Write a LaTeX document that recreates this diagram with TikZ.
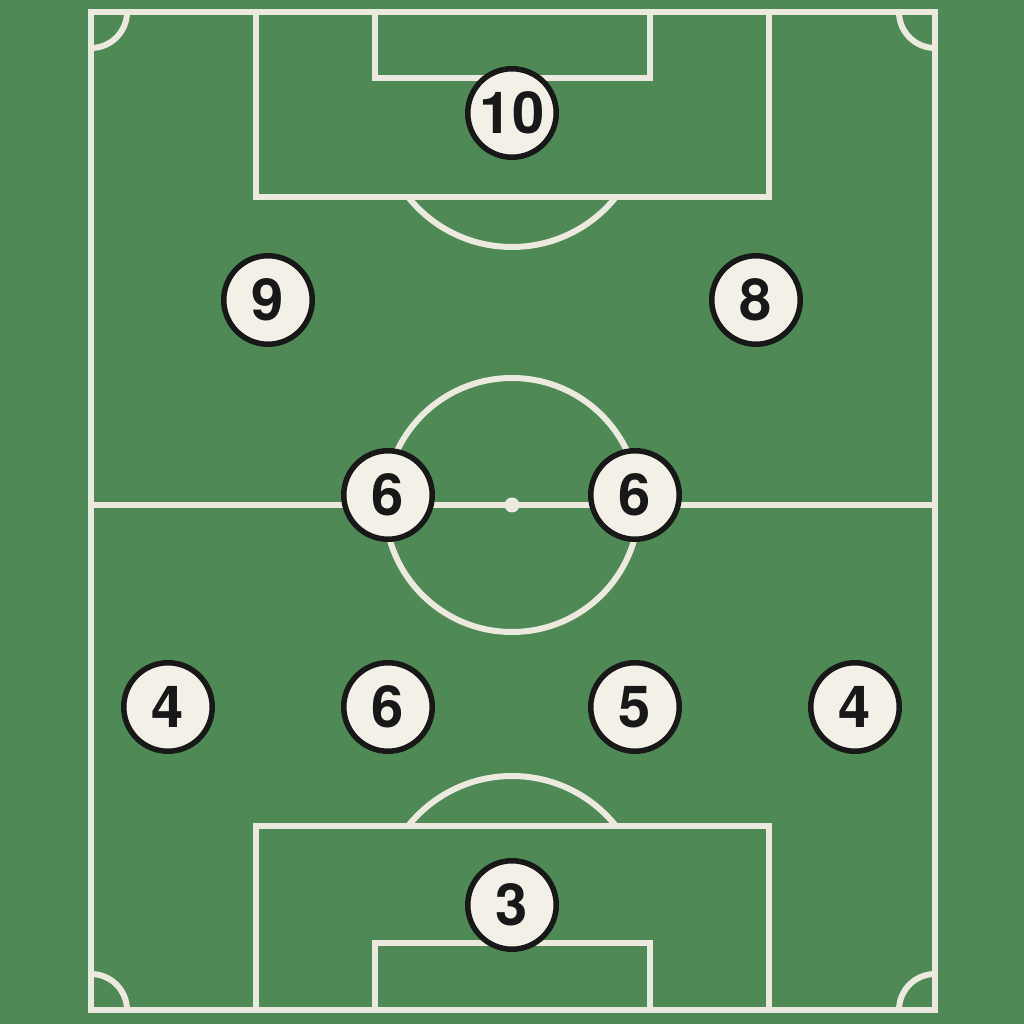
\documentclass[tikz,border=0pt]{standalone}
\usepackage{fontspec}
\setmainfont{TeX Gyre Heros}
\usepackage{xcolor}
\usetikzlibrary{positioning}

\definecolor{pitch}{RGB}{79,137,86}
\definecolor{chalk}{RGB}{236,233,222}
\definecolor{shirt}{RGB}{243,240,232}
\definecolor{ink}{RGB}{24,24,24}

\tikzset{
    line/.style={draw=chalk, line width=0.12cm},
    player/.style={circle, draw=ink, fill=shirt, line width=0.11cm,
        minimum size=1.77cm, inner sep=0pt,
        font=\fontsize{33}{33}\selectfont\bfseries, text=ink}
}

\begin{document}
\begin{tikzpicture}[x=0.02cm, y=0.02cm]
    % Grass
    \fill[pitch] (0,0) rectangle (1024,1024);
    \useasboundingbox (0,0) rectangle (1024,1024);

    % Touch lines and goal lines
    \draw[line] (91,14) rectangle (935,1012);

    % Halfway line, centre circle and spot
    \draw[line] (91,519) -- (935,519);
    \draw[line] (512,519) circle (127);
    \fill[chalk] (512,519) circle (7.5);

    % Top penalty area and goal area
    \draw[line] (256,1012) -- (256,827) -- (769,827) -- (769,1012);
    \draw[line] (375,1012) -- (375,946) -- (650,946) -- (650,1012);
    \begin{scope}
        \clip (0,0) rectangle (1024,827);
        \draw[line] (512,910) circle (133);
    \end{scope}

    % Bottom penalty area and goal area
    \draw[line] (256,14) -- (256,198) -- (769,198) -- (769,14);
    \draw[line] (375,14) -- (375,81) -- (650,81) -- (650,14);
    \begin{scope}
        \clip (0,198) rectangle (1024,1024);
        \draw[line] (512,115) circle (133);
    \end{scope}

    % Corner arcs
    \draw[line] (91,976) arc (270:360:36);
    \draw[line] (899,1012) arc (180:270:36);
    \draw[line] (127,14) arc (0:90:36);
    \draw[line] (935,50) arc (90:180:36);

    % Players
    \node[player] (ten) at (512,911) {10};
    \node[player] (nine) at (268,724) {9};
    \node[player] (eight) at (756,724) {8};
    \node[player] (six_l) at (388,529) {6};
    \node[player] (six_r) at (635,529) {6};
    \node[player] (four_l) at (168,317) {4};
    \node[player] (six_b) at (388,317) {6};
    \node[player] (five) at (635,317) {5};
    \node[player] (four_r) at (855,317) {4};
    \node[player] (three) at (512,119) {3};
\end{tikzpicture}
\end{document}
